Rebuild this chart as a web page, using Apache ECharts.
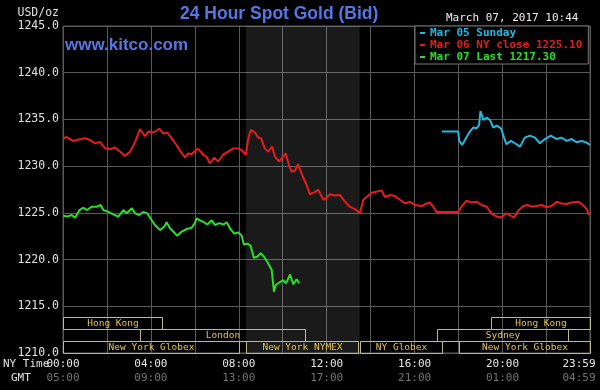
<!DOCTYPE html>
<html><head><meta charset="utf-8">
<script src="https://cdn.jsdelivr.net/npm/echarts@6/dist/echarts.min.js"></script>
<style>html,body{margin:0;padding:0;background:#000}#c{width:600px;height:390px}</style>
</head><body><div id="c"></div>
<script>
// ---- data (minutes since 00:00 NY time, price USD/oz) ----
const seriesNames = ['Mar 05 Sunday', 'Mar 06 NY close 1225.10', 'Mar 07 Last 1217.30'];

const cyanTimes = [1035,1079,1082,1090,1099,1111,1120,1129,1136,1140,1148,1157,1166,1175,1184,1196,1205,1211,1223,1234,1248,1261,1275,1289,1302,1316,1332,1348,1361,1375,1389,1402,1416,1430,1439];
const cyanPrices = [1233.7,1233.7,1232.7,1232.27,1232.9,1233.7,1234.13,1234.05,1234.4,1235.9,1234.94,1235.2,1234.94,1234.13,1234.34,1234.05,1232.98,1232.34,1232.7,1232.45,1232.09,1233.05,1233.27,1233.05,1232.45,1232.9,1233.27,1232.9,1233.05,1232.7,1232.9,1232.56,1232.7,1232.5,1232.27];

const redTimes = [1,10,19,28,37,51,60,74,87,101,115,128,142,156,169,183,197,210,224,233,247,263,274,285,297,310,321,333,342,351,365,371,383,392,401,413,424,438,451,465,479,488,499,506,513,524,533,541,551,560,571,579,590,599,608,617,624,633,642,653,665,674,686,697,711,720,729,741,756,770,783,797,811,820,829,843,856,870,879,893,906,920,934,947,961,979,993,1002,1011,1020,1079,1088,1102,1116,1129,1143,1157,1170,1184,1198,1209,1220,1231,1243,1257,1268,1280,1293,1307,1320,1334,1348,1361,1375,1389,1407,1420,1430,1437];
const redPrices = [1232.98,1233.12,1232.9,1232.69,1232.8,1232.9,1232.98,1232.8,1232.44,1232.6,1231.9,1231.8,1232.0,1231.55,1231.1,1231.55,1232.6,1233.97,1233.2,1233.7,1233.6,1234.0,1233.5,1233.6,1232.98,1232.26,1231.55,1230.95,1231.37,1231.27,1231.8,1231.8,1231.2,1231.0,1230.3,1230.9,1230.5,1231.27,1231.55,1231.9,1231.9,1231.7,1231.2,1232.98,1233.87,1233.6,1233.05,1232.98,1231.9,1231.55,1232.1,1231.0,1230.5,1230.9,1231.37,1230.12,1229.4,1229.5,1230.2,1229.05,1228.0,1226.99,1227.2,1227.45,1226.4,1226.6,1227.0,1226.85,1226.9,1226.2,1225.66,1225.4,1225.0,1226.4,1226.7,1227.16,1227.27,1227.4,1226.7,1226.9,1226.8,1226.4,1226.0,1226.2,1225.84,1225.73,1226.0,1226.1,1225.66,1225.1,1225.1,1225.66,1226.3,1226.1,1226.2,1225.84,1225.66,1224.95,1224.6,1224.5,1224.95,1224.77,1224.5,1225.23,1225.73,1225.84,1225.66,1225.73,1225.84,1225.6,1225.73,1226.2,1226.0,1225.95,1226.1,1226.2,1225.84,1225.4,1224.77];

const greenTimes = [1,12,24,33,45,55,66,78,92,103,110,124,137,151,165,174,188,197,208,219,230,239,251,265,276,283,292,301,312,324,338,351,360,365,374,385,394,406,415,427,438,447,456,467,479,488,494,503,512,521,530,540,549,560,570,576,581,592,601,609,620,629,638,645];
const greenPrices = [1224.7,1224.6,1224.77,1224.48,1225.3,1225.55,1225.3,1225.66,1225.66,1225.84,1225.3,1225.1,1224.84,1224.6,1225.3,1224.95,1225.5,1224.95,1224.77,1225.1,1224.95,1224.4,1223.7,1223.16,1223.5,1224.0,1223.35,1223.0,1222.55,1223.0,1223.27,1223.4,1223.9,1224.4,1224.2,1224.0,1223.75,1224.2,1223.7,1223.9,1223.75,1224.0,1223.35,1222.8,1222.9,1222.55,1221.6,1221.7,1221.5,1220.2,1220.3,1220.67,1220.3,1219.6,1218.88,1216.56,1217.28,1217.57,1217.8,1217.46,1218.4,1217.35,1217.9,1217.46];

// COMEX shading (minutes)
const shadeRange = [500, 810];

// market sessions: start, end (minutes), row (0 bottom .. 2 top)
const sessionNames = ['Hong Kong','London','New York Globex','New York NYMEX','NY Globex','Sydney','New York Globex','Hong Kong'];
const sessionStart = [0, 210, 0, 500, 810, 1020, 1080, 1170];
const sessionEnd   = [270, 660, 480, 805, 1035, 1380, 1439, 1439];
const sessionRow   = [2, 1, 0, 0, 0, 1, 0, 2];

const yMin = 1210, yMax = 1245, yStep = 5;
const xMin = 0, xMax = 1439, xStep = 120;

// ---- chart ----
const MONO = "'DejaVu Sans Mono', monospace";
const COLORS = ['#22b8e0', '#e81c1c', '#28e028'];
const zip = (t, v) => t.map((x, i) => [x, v[i]]);
const hhmm = m => String(Math.floor(m / 60)).padStart(2, '0') + ':' + String(m % 60).padStart(2, '0');

const chart = echarts.init(document.getElementById('c'), null, {renderer: 'canvas'});
chart.setOption({
  backgroundColor: '#000',
  animation: false,
  title: [
    {text: '24 Hour Spot Gold (Bid)', left: 180, top: 5, padding: 0,
     textStyle: {color: '#5577e6', fontSize: 17.5, fontWeight: 'bold', fontFamily: "'Liberation Sans', Arial, sans-serif"}},
    {text: 'www.kitco.com', left: 65, top: 37, padding: 0,
     textStyle: {color: '#5577e6', fontSize: 17, fontWeight: 'bold', fontFamily: "'Liberation Sans', Arial, sans-serif"}},
    {text: 'March 07, 2017 10:44', left: 446, top: 13, padding: 0,
     textStyle: {color: '#eeeeee', fontSize: 11, fontWeight: 'normal', fontFamily: MONO}}
  ],
  graphic: [
    {type: 'text', x: 59, y: 13, style: {text: 'USD/oz', align: 'right', verticalAlign: 'middle', fill: '#e0e0e0', font: "11.5px 'DejaVu Sans Mono'"}},
    {type: 'text', x: 3, y: 364, style: {text: 'NY Time', align: 'left', verticalAlign: 'middle', fill: '#e0e0e0', font: "11px 'DejaVu Sans Mono'"}},
    {type: 'text', x: 11, y: 378, style: {text: 'GMT', align: 'left', verticalAlign: 'middle', fill: '#e0e0e0', font: "11px 'DejaVu Sans Mono'"}}
  ],
  legend: {
    orient: 'vertical', left: 415, top: 26, icon: 'rect', itemWidth: 5, itemHeight: 2, itemGap: 0,
    padding: [1, 6, 1, 5], backgroundColor: '#000', borderColor: '#777', borderWidth: 1,
    selectedMode: false,
    textStyle: {fontFamily: MONO, fontSize: 11, fontWeight: 'bold', lineHeight: 12},
    data: seriesNames.map((n, i) => ({name: n, textStyle: {color: COLORS[i]}, itemStyle: {color: COLORS[i]}}))
  },
  grid: [
    {left: 63, right: 10, top: 26, bottom: 37, show: true, borderColor: '#595959', borderWidth: 1,
     backgroundColor: 'transparent', containLabel: false, outerBoundsMode: 'none'},
    {left: 63, right: 10, top: 317, height: 36, show: false, containLabel: false, outerBoundsMode: 'none'}
  ],
  xAxis: [
    {type: 'value', gridIndex: 0, min: xMin, max: xMax, interval: xStep,
     axisLine: {show: false}, axisTick: {show: false},
     splitLine: {show: true, lineStyle: {color: '#595959', width: 1}},
     axisLabel: {
       margin: 4,
       formatter: v => {
         if (v === xMax) return '{c|' + hhmm(v) + '}\n{d|' + hhmm((v + 300) % 1440) + '}';
         return (v % 240 === 0) ? '{a|' + hhmm(v) + '}\n{b|' + hhmm((v + 300) % 1440) + '}' : '';
       },
       rich: {
         a: {color: '#e8e8e8', fontFamily: MONO, fontSize: 11, lineHeight: 14},
         b: {color: '#747474', fontFamily: MONO, fontSize: 11, lineHeight: 14},
         c: {color: '#e8e8e8', fontFamily: MONO, fontSize: 11, lineHeight: 14, padding: [0, 22, 0, 0]},
         d: {color: '#747474', fontFamily: MONO, fontSize: 11, lineHeight: 14, padding: [0, 22, 0, 0]}
       }
     }},
    {type: 'value', gridIndex: 1, min: xMin, max: xMax, show: false}
  ],
  yAxis: [
    {type: 'value', gridIndex: 0, min: yMin, max: yMax, interval: yStep,
     axisLine: {show: false}, axisTick: {show: false},
     splitLine: {show: true, lineStyle: {color: '#595959', width: 1}},
     axisLabel: {margin: 4, color: '#e0e0e0', fontFamily: MONO, fontSize: 11.5, formatter: v => v.toFixed(1)}},
    {type: 'value', gridIndex: 1, min: 0, max: 3, show: false}
  ],
  series: [
    {name: seriesNames[0], type: 'line', data: zip(cyanTimes, cyanPrices), showSymbol: false,
     lineStyle: {color: COLORS[0], width: 2}, itemStyle: {color: COLORS[0]}, z: 3},
    {name: seriesNames[1], type: 'line', data: zip(redTimes, redPrices), showSymbol: false,
     lineStyle: {color: COLORS[1], width: 2}, itemStyle: {color: COLORS[1]}, z: 3,
     markArea: {silent: true, itemStyle: {color: 'rgba(255,255,255,0.1)'},
       data: [[{xAxis: shadeRange[0]}, {xAxis: shadeRange[1]}]]}},
    {name: seriesNames[2], type: 'line', data: zip(greenTimes, greenPrices), showSymbol: false,
     lineStyle: {color: COLORS[2], width: 2}, itemStyle: {color: COLORS[2]}, z: 3},
    {type: 'custom', xAxisIndex: 1, yAxisIndex: 1, silent: true, z: 4,
     data: sessionStart.map((s, i) => [s, sessionEnd[i], sessionRow[i]]),
     renderItem: (params, api) => {
       const p0 = api.coord([api.value(0), api.value(2) + 1]);
       const p1 = api.coord([api.value(1), api.value(2)]);
       const x0 = Math.round(p0[0]) + 0.5, y0 = Math.round(p0[1]) + 0.5;
       const x1 = Math.round(p1[0]) + 0.5, y1 = Math.round(p1[1]) + 0.5;
       return {type: 'group', children: [
         {type: 'rect', shape: {x: x0, y: y0, width: x1 - x0, height: y1 - y0},
          style: {fill: 'none', stroke: '#bfb88f', lineWidth: 1}},
         {type: 'text', style: {text: sessionNames[params.dataIndex], x: (x0 + x1) / 2, y: (y0 + y1) / 2 + 0.5,
          align: 'center', verticalAlign: 'middle', fill: '#e6c44a', font: "9.5px 'DejaVu Sans Mono'"}}
       ]};
     }}
  ]
});
</script></body></html>
